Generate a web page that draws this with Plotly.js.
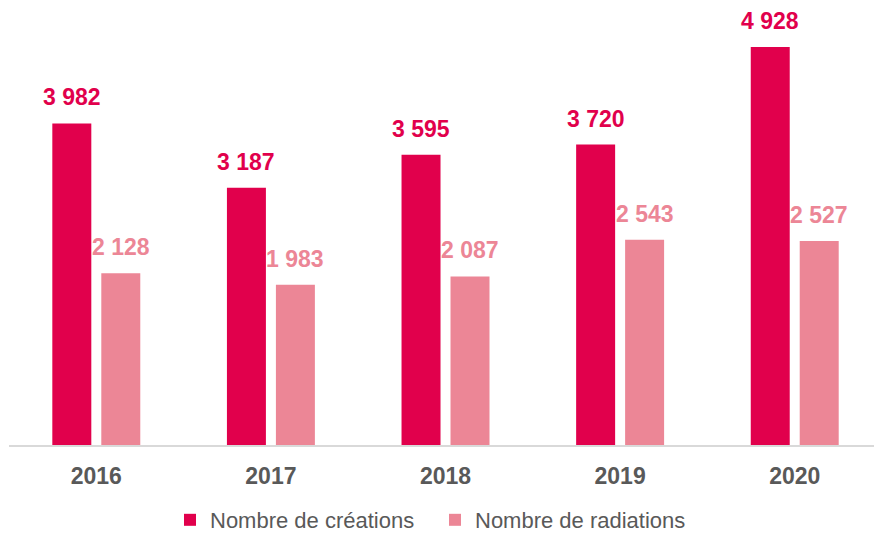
<!DOCTYPE html>
<html>
<head>
<meta charset="utf-8">
<script src="https://cdn.plot.ly/plotly-3.0.1.min.js"></script>
<style>html,body{margin:0;padding:0;background:#fff;}#chart{width:874px;height:534px;}</style>
</head>
<body>
<div id="chart"></div>
<script>
const years = ['2016', '2017', '2018', '2019', '2020'];
const creations = [3982, 3187, 3595, 3720, 4928];
const radiations = [2128, 1983, 2087, 2543, 2527];
const seriesNames = ['Nombre de créations', 'Nombre de radiations'];

const colCre = '#E1004C';
const colRad = '#EC8696';
const fontFam = '"Liberation Sans", Arial, sans-serif';

function fmt(v) { return String(v).replace(/\B(?=(\d{3})+(?!\d))/g, ' '); }

const traces = [
  { type: 'bar', name: seriesNames[0], x: years, y: creations, marker: { color: colCre }, hoverinfo: 'none' },
  { type: 'bar', name: seriesNames[1], x: years, y: radiations, marker: { color: colRad }, hoverinfo: 'none' }
];

// value labels: x given as category index (numeric-looking category names confuse annotation placement)
const annotations = [];
years.forEach((yr, i) => {
  annotations.push({ x: i, y: creations[i], xref: 'x', yref: 'y', text: '<b>' + fmt(creations[i]) + '</b>', showarrow: false,
    yanchor: 'bottom', xanchor: 'center', xshift: -24.5, yshift: 11,
    font: { family: fontFam, size: 23, color: colCre } });
  annotations.push({ x: i, y: radiations[i], xref: 'x', yref: 'y', text: '<b>' + fmt(radiations[i]) + '</b>', showarrow: false,
    yanchor: 'bottom', xanchor: 'center', xshift: 24.5, yshift: 11,
    font: { family: fontFam, size: 23, color: colRad } });
});

const layout = {
  width: 874, height: 534,
  margin: { l: 9, r: 0, t: 1, b: 89 },
  paper_bgcolor: '#fff', plot_bgcolor: '#fff',
  barmode: 'group', bargap: 0.439, bargroupgap: 0.204,
  font: { family: fontFam },
  xaxis: {
    type: 'category', range: [-0.5, 4.454], fixedrange: true,
    showline: true, linecolor: '#D9D9D9', linewidth: 2,
    ticks: '', ticklabelstandoff: 9,
    tickfont: { family: fontFam, size: 23, color: '#595959', weight: 'bold' },
    showgrid: false, zeroline: false
  },
  yaxis: { range: [0, 5498], visible: false, showgrid: false, zeroline: false, fixedrange: true },
  showlegend: true,
  legend: {
    orientation: 'h', xref: 'container', yref: 'container', x: 0.4977, xanchor: 'center', y: 0.0262, yanchor: 'middle',
    entrywidth: 220, entrywidthmode: 'pixels',
    font: { family: fontFam, size: 22, color: '#595959' }, traceorder: 'normal', itemclick: false
  },
  annotations: annotations
};

Plotly.newPlot('chart', traces, layout, { displayModeBar: false, staticPlot: true });
</script>
</body>
</html>
